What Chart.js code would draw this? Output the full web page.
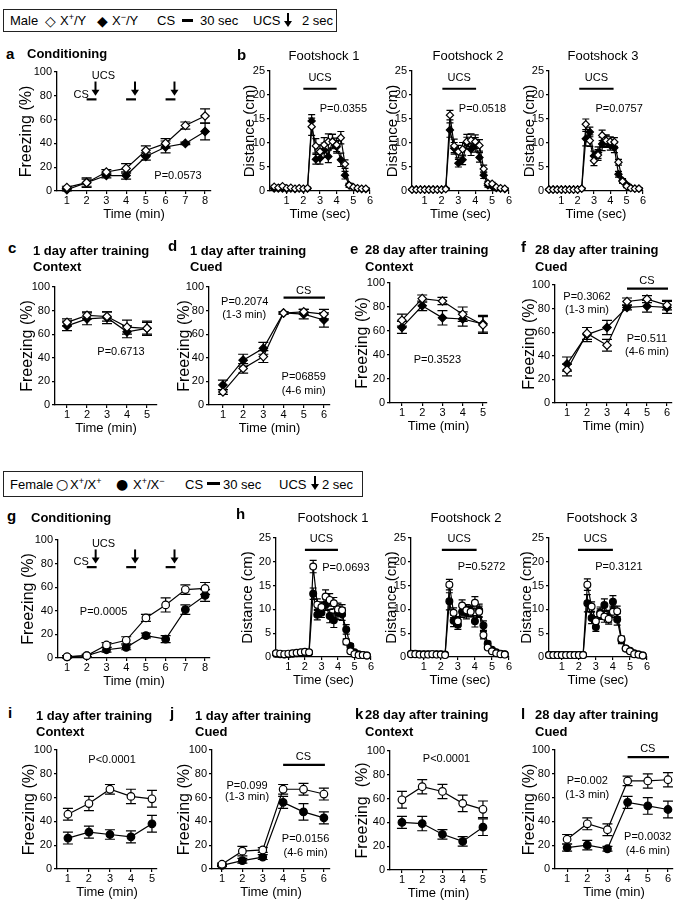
<!DOCTYPE html>
<html>
<head>
<meta charset="utf-8">
<script src="https://cdn.jsdelivr.net/npm/chart.js@4.4.1/dist/chart.umd.min.js"></script>
<style>
body { margin: 0; background: #fff; font-family: 'Liberation Sans', Arial, sans-serif; color: #000; }
#page { position: relative; width: 675px; height: 903px; overflow: hidden; }
.t { position: absolute; white-space: nowrap; line-height: 1; }
.lt { font-weight: bold; font-size: 15px; }
.hd { font-weight: bold; font-size: 13px; }
.fs { font-size: 13px; transform: translateX(-50%); }
.lg { font-size: 13px; }
.sym { font-family: 'DejaVu Sans', sans-serif; font-size: 14px; }
sup { font-size: 9px; line-height: 0; vertical-align: 5px; }
.box { position: absolute; border: 1px solid #222; box-sizing: border-box; }
.dash { position: absolute; height: 3px; background: #000; }
canvas { position: absolute; }
</style>
</head>
<body>
<div id="page">
  <div class="box" style="left:3px;top:9px;width:334px;height:23px"></div>
  <div class="box" style="left:3px;top:471px;width:360px;height:26px"></div>
</div>
<script>
'use strict'

// time axes
const mins8 = [1, 2, 3, 4, 5, 6, 7, 8];
const mins5 = [1, 2, 3, 4, 5];
const mins6 = [1, 2, 3, 4, 5, 6];
const secs = [0.25, 0.5, 0.75, 1, 1.25, 1.5, 1.75, 2, 2.25, 2.5, 2.75, 3, 3.25, 3.5, 3.75, 4, 4.25, 4.5, 4.75, 5, 5.25, 5.5, 5.75];

// male, conditioning (a)
const aOpen = [3, 7, 16, 19, 34, 40, 55, 63];
const aOpenErr = [1, 3, 2, 4, 4, 4, 3, 6];
const aFill = [1, 7, 13, 13, 29, 37, 40, 50];
const aFillErr = [1, 4, 2, 3, 3, 5, 1, 7];

// male, footshocks (b)
const b1Open = [0.9, 0.7, 1.0, 0.6, 0.7, 0.5, 0.6, 0.5, 0.6, 13.4, 9.4, 8.2, 9.6, 10.3, 10.3, 9.6, 11.1, 5.6, 1.2, 0.8, 0.6, 0.5, 0.5];
const b1OpenErr = [0.3, 0.2, 0.3, 0.2, 0.2, 0.2, 0.2, 0.2, 0.2, 1.8, 1.5, 1.4, 1.5, 1.6, 1.5, 1.4, 1.3, 0.9, 0.4, 0.3, 0.2, 0.2, 0.2];
const b1Fill = [0.5, 0.5, 0.5, 0.4, 0.5, 0.4, 0.5, 0.4, 0.5, 14.6, 6.6, 6.8, 8.5, 7.2, 10.4, 9.2, 6.5, 3.3, 1.2, 0.8, 0.5, 0.4, 0.4];
const b1FillErr = [0.2, 0.2, 0.2, 0.2, 0.2, 0.2, 0.2, 0.2, 0.2, 1.3, 1.0, 1.2, 1.5, 1.3, 1.4, 1.3, 1.4, 0.8, 0.4, 0.3, 0.2, 0.2, 0.2];
const b2Open = [0.3, 0.3, 0.3, 0.3, 0.3, 0.3, 0.3, 0.3, 0.4, 15.8, 9.4, 8.2, 8.7, 10.3, 10.6, 10.3, 9.5, 4.6, 1.6, 1.5, 0.8, 0.6, 0.5];
const b2OpenErr = [0.1, 0.1, 0.1, 0.1, 0.1, 0.1, 0.1, 0.1, 0.2, 1.0, 1.4, 1.3, 1.4, 1.5, 1.3, 1.4, 1.2, 0.8, 0.4, 0.3, 0.2, 0.2, 0.2];
const b2Fill = [0.3, 0.3, 0.3, 0.3, 0.3, 0.3, 0.3, 0.3, 0.5, 12.7, 8.9, 5.8, 6.5, 10.0, 8.7, 9.6, 7.0, 3.3, 1.2, 1.0, 0.6, 0.5, 0.4];
const b2FillErr = [0.1, 0.1, 0.1, 0.1, 0.1, 0.1, 0.1, 0.1, 0.2, 1.5, 1.2, 0.8, 1.0, 1.2, 1.3, 1.5, 1.0, 0.7, 0.4, 0.3, 0.2, 0.2, 0.2];
const b3Open = [0.3, 0.3, 0.3, 0.3, 0.3, 0.3, 0.3, 0.3, 0.5, 13.9, 10.5, 6.3, 7.5, 11.6, 10.5, 10.3, 10.2, 6.0, 2.0, 1.0, 0.6, 0.5, 0.5];
const b3OpenErr = [0.1, 0.1, 0.1, 0.1, 0.1, 0.1, 0.1, 0.1, 0.2, 1.1, 1.2, 1.0, 1.1, 1.1, 1.2, 1.0, 0.9, 0.6, 0.4, 0.3, 0.2, 0.2, 0.2];
const b3Fill = [0.3, 0.3, 0.3, 0.3, 0.3, 0.3, 0.3, 0.3, 0.5, 10.9, 12.3, 7.3, 8.0, 9.8, 10.3, 9.5, 9.0, 3.5, 2.2, 1.3, 0.7, 0.5, 0.5];
const b3FillErr = [0.1, 0.1, 0.1, 0.1, 0.1, 0.1, 0.1, 0.1, 0.2, 1.5, 1.0, 1.0, 1.2, 1.4, 1.2, 1.0, 1.0, 0.6, 0.4, 0.3, 0.2, 0.2, 0.2];

// male, tests (c-f)
const cOpen = [70, 76, 75, 66, 65];
const cOpenErr = [3, 3, 4, 6, 5];
const cFill = [67, 73, 74, 62, 65];
const cFillErr = [4, 5, 5, 5, 6];
const dOpen = [11, 31, 41, 78, 79, 77];
const dOpenErr = [2, 4, 5, 1, 2, 4];
const dFill = [17, 38, 48, 78, 77, 72];
const dFillErr = [4, 5, 5, 1, 4, 6];
const eOpen = [69, 87, 85, 74, 65];
const eOpenErr = [5, 3, 3, 6, 7];
const eFill = [63, 81, 71, 70, 66];
const eFillErr = [5, 4, 6, 6, 7];
const fOpen = [28, 59, 49, 86, 88, 83];
const fOpenErr = [5, 5, 5, 3, 3, 4];
const fFill = [33, 58, 64, 81, 82, 81];
const fFillErr = [6, 6, 6, 2, 5, 5];

// female, conditioning (g)
const gOpen = [1, 2, 11, 15, 34, 45, 58, 59];
const gOpenErr = [1, 1, 2, 3, 3, 6, 4, 5];
const gFill = [1, 2, 7, 9, 19, 16, 41, 53];
const gFillErr = [1, 1, 2, 2, 2, 3, 4, 5];

// female, footshocks (h)
const h1Open = [0.8, 0.7, 0.6, 0.7, 0.8, 0.9, 1.0, 1.1, 1.0, 19.0, 11.0, 10.5, 12.7, 12.0, 11.3, 10.0, 9.8, 3.2, 1.2, 0.6, 0.4, 0.4, 0.3];
const h1OpenErr = [0.3, 0.2, 0.2, 0.2, 0.2, 0.2, 0.2, 0.2, 0.2, 1.3, 1.2, 1.1, 1.4, 1.3, 1.2, 1.3, 1.2, 0.6, 0.3, 0.2, 0.2, 0.2, 0.2];
const h1Fill = [0.7, 0.6, 0.5, 0.6, 0.7, 0.8, 0.9, 1.0, 0.9, 13.3, 8.9, 9.3, 11.0, 8.6, 7.7, 9.3, 9.0, 5.8, 2.3, 1.0, 0.6, 0.4, 0.3];
const h1FillErr = [0.3, 0.2, 0.2, 0.2, 0.2, 0.2, 0.2, 0.2, 0.2, 1.2, 1.1, 1.0, 1.2, 1.4, 1.5, 1.4, 1.3, 1.0, 0.5, 0.3, 0.2, 0.2, 0.2];
const h2Open = [0.6, 0.6, 0.5, 0.5, 0.5, 0.6, 0.5, 0.5, 0.4, 15.2, 9.3, 7.5, 10.8, 9.8, 9.5, 11.4, 9.5, 4.6, 2.0, 1.2, 0.8, 0.6, 0.5];
const h2OpenErr = [0.2, 0.2, 0.2, 0.2, 0.2, 0.2, 0.2, 0.2, 0.2, 1.1, 1.0, 1.0, 1.2, 1.2, 1.1, 1.3, 1.2, 0.8, 0.4, 0.3, 0.2, 0.2, 0.2];
const h2Fill = [0.7, 0.7, 0.6, 0.6, 0.6, 0.6, 0.6, 0.6, 0.5, 11.7, 7.6, 6.8, 9.5, 9.3, 9.7, 7.5, 9.8, 6.6, 2.8, 1.5, 1.0, 0.7, 0.6];
const h2FillErr = [0.2, 0.2, 0.2, 0.2, 0.2, 0.2, 0.2, 0.2, 0.2, 1.8, 1.2, 1.0, 1.2, 1.3, 1.2, 1.2, 1.3, 1.0, 0.5, 0.3, 0.2, 0.2, 0.2];
const h3Open = [0.4, 0.4, 0.4, 0.4, 0.4, 0.4, 0.4, 0.4, 0.4, 15.2, 10.6, 7.5, 9.0, 8.5, 8.0, 9.5, 9.6, 3.8, 1.8, 1.2, 0.6, 0.5, 0.3];
const h3OpenErr = [0.1, 0.1, 0.1, 0.1, 0.1, 0.1, 0.1, 0.1, 0.1, 1.2, 1.0, 1.0, 1.1, 1.2, 1.1, 1.2, 1.1, 0.6, 0.4, 0.3, 0.2, 0.2, 0.2];
const h3Fill = [0.4, 0.4, 0.4, 0.4, 0.4, 0.4, 0.4, 0.4, 0.4, 11.3, 8.2, 6.3, 9.3, 10.9, 8.5, 11.6, 7.9, 3.5, 1.8, 1.3, 0.8, 0.5, 0.3];
const h3FillErr = [0.1, 0.1, 0.1, 0.1, 0.1, 0.1, 0.1, 0.1, 0.1, 1.8, 1.2, 0.9, 1.2, 1.3, 1.3, 1.3, 1.2, 0.7, 0.4, 0.3, 0.2, 0.2, 0.2];

// female, tests (i-l)
const iOpen = [46, 55, 67, 61, 59];
const iOpenErr = [5, 6, 4, 6, 7];
const iFill = [26, 31, 29, 27, 38];
const iFillErr = [5, 5, 4, 5, 7];
const jOpen = [4, 15, 16, 67, 67, 63];
const jOpenErr = [1, 4, 2, 4, 5, 5];
const jFill = [3, 7, 10, 56, 48, 43];
const jFillErr = [1, 2, 2, 5, 7, 5];
const kOpen = [59, 70, 66, 56, 51];
const kOpenErr = [7, 6, 6, 7, 7];
const kFill = [40, 39, 30, 24, 36];
const kFillErr = [5, 6, 4, 4, 7];
const lOpen = [25, 38, 33, 74, 74, 75];
const lOpenErr = [4, 5, 5, 4, 6, 6];
const lFill = [18, 20, 17, 56, 53, 50];
const lFillErr = [3, 4, 2, 5, 7, 7];

const FONT = "'Liberation Sans', Arial, sans-serif";
Chart.defaults.font.family = FONT;
Chart.defaults.color = '#000';

const page = document.getElementById('page');

// error bars under the points
const errorBars = {
    id: 'errorBars',
    beforeDatasetsDraw(chart, args, opts) {
        const ctx = chart.ctx, ys = chart.scales.y;
        ctx.save();
        ctx.strokeStyle = '#000';
        ctx.lineWidth = 1.2;
        chart.data.datasets.forEach((ds, i) => {
            if (!ds.err) return;
            chart.getDatasetMeta(i).data.forEach((pt, j) => {
                const v = ds.data[j].y, e = ds.err[j];
                const top = ys.getPixelForValue(v + e), bot = ys.getPixelForValue(Math.max(v - e, 0));
                ctx.beginPath();
                ctx.moveTo(pt.x, top); ctx.lineTo(pt.x, bot);
                ctx.moveTo(pt.x - opts.cap, top); ctx.lineTo(pt.x + opts.cap, top);
                ctx.moveTo(pt.x - opts.cap, bot); ctx.lineTo(pt.x + opts.cap, bot);
                ctx.stroke();
            });
        });
        ctx.restore();
    }
};

// CS / UCS bars, arrows and p-values
const marks = {
    id: 'marks',
    afterDatasetsDraw(chart, args, opts) {
        const ctx = chart.ctx, xs = chart.scales.x, ys = chart.scales.y;
        const px = v => xs.getPixelForValue(v), py = v => ys.getPixelForValue(v);
        ctx.save();
        ctx.fillStyle = '#000';
        ctx.strokeStyle = '#000';
        (opts.bars || []).forEach(b => {
            ctx.lineWidth = 2.2;
            ctx.beginPath();
            ctx.moveTo(px(b[0]), py(b[2]));
            ctx.lineTo(px(b[1]), py(b[2]));
            ctx.stroke();
        });
        (opts.arrows || []).forEach(a => {
            const x = px(a[0]), y1 = py(a[1]), y2 = py(a[2]);
            ctx.lineWidth = 2;
            ctx.beginPath();
            ctx.moveTo(x, y1); ctx.lineTo(x, y2 - 4);
            ctx.stroke();
            ctx.beginPath();
            ctx.moveTo(x - 4, y2 - 6); ctx.lineTo(x + 4, y2 - 6); ctx.lineTo(x, y2);
            ctx.closePath();
            ctx.fill();
        });
        ctx.font = '11px ' + FONT;
        ctx.textAlign = 'center';
        ctx.textBaseline = 'middle';
        (opts.texts || []).forEach(t => ctx.fillText(t[0], px(t[1]), py(t[2])));
        ctx.restore();
    }
};

function series(xs, s) {
    return {
        data: xs.map((x, i) => ({ x: x, y: s.data[i] })),
        err: s.err,
        pointStyle: s.shape,
        pointRadius: s.r,
        pointBackgroundColor: s.filled ? '#000' : '#fff',
        pointBorderColor: '#000',
        pointBorderWidth: 1.2,
        borderColor: '#000',
        borderWidth: 1.2,
        tension: 0,
        clip: false
    };
}

function makePanel(p) {
    const padT = 18, padR = 18, xh = 31;
    const w = p.right - p.left, h = p.bottom - p.top;
    const cv = document.createElement('canvas');
    cv.width = w + p.yw + padR;
    cv.height = h + padT + xh;
    cv.style.left = (p.left - p.yw) + 'px';
    cv.style.top = (p.top - padT) + 'px';
    page.appendChild(cv);

    const grid = { drawOnChartArea: false, drawTicks: true, tickLength: 3, color: '#000', lineWidth: 1.2 };
    const border = { color: '#000', width: 1.3 };
    new Chart(cv, {
        type: 'line',
        data: { datasets: p.series.map(s => series(p.xs, s)) },
        plugins: [errorBars, marks],
        options: {
            responsive: false,
            animation: false,
            devicePixelRatio: 1,
            layout: { padding: { top: padT, right: padR, left: 0, bottom: 0 } },
            plugins: {
                legend: { display: false },
                tooltip: { enabled: false },
                errorBars: { cap: p.cap },
                marks: p.marks
            },
            scales: {
                x: {
                    type: 'linear', min: p.xMin, max: p.xMax,
                    afterBuildTicks: s => { s.ticks = p.xTicks.map(v => ({ value: v })); },
                    afterFit: s => { s.height = xh; },
                    grid: grid, border: border,
                    ticks: { font: { size: 11 }, color: '#000', padding: 0, maxRotation: 0, autoSkip: false },
                    title: { display: true, text: p.xTitle, font: { size: 13 }, color: '#000', padding: 0 }
                },
                y: {
                    min: 0, max: p.yMax,
                    afterBuildTicks: s => {
                        const t = [];
                        for (let v = 0; v <= p.yMax; v += p.yStep) t.push({ value: v });
                        s.ticks = t;
                    },
                    afterFit: s => { s.width = p.yw; },
                    grid: grid, border: border,
                    ticks: { font: { size: 11 }, color: '#000', padding: 2 },
                    title: { display: true, text: p.yTitle, font: { size: p.ytSize }, color: '#000', padding: 0 }
                }
            }
        }
    });
}

// shapes for the two genotypes
const maleSeries = (o, oe, f, fe, r) => [
    { data: o, err: oe, shape: 'rectRot', filled: false, r: r },
    { data: f, err: fe, shape: 'rectRot', filled: true, r: r }
];
const femaleSeries = (o, oe, f, fe, r) => [
    { data: o, err: oe, shape: 'circle', filled: false, r: r },
    { data: f, err: fe, shape: 'circle', filled: true, r: r }
];

const condMarks = (pText, px, py) => ({
    bars: [[2, 2.5, 77], [4, 4.5, 77], [6, 6.5, 77]],
    arrows: [[2.45, 92, 80], [4.45, 92, 80], [6.45, 92, 80]],
    texts: [['UCS', 2.85, 97], ['CS', 1.72, 81], [pText, px, py]]
});
const shockMarks = (pText, px, py, b0, b1, by) => ({
    bars: [[b0, b1, by]],
    texts: [['UCS', (b0 + b1) / 2, by + 2.2], [pText, px, py]]
});

const FR = 'Freezing (%)', DI = 'Distance (cm)', TM = 'Time (min)', TS = 'Time (sec)';

const panels = [
    // male row 1
    { left: 57, right: 211, top: 72, bottom: 191, xMin: 0.5, xMax: 8.3, xs: mins8, xTicks: mins8, yMax: 100, yStep: 20, yw: 40, yTitle: FR, ytSize: 16, xTitle: TM, cap: 5,
      series: maleSeries(aOpen, aOpenErr, aFill, aFillErr, 4.2), marks: condMarks('P=0.0573', 6.63, 13) },
    { left: 270, right: 370, top: 71, bottom: 191, xMin: 0, xMax: 6, xs: secs, xTicks: mins6, yMax: 25, yStep: 5, yw: 29, yTitle: DI, ytSize: 15, xTitle: TS, cap: 3.5,
      series: maleSeries(b1Open, b1OpenErr, b1Fill, b1FillErr, 3.6), marks: shockMarks('P=0.0355', 4.4, 17, 2, 4, 21.3) },
    { left: 412, right: 509, top: 71, bottom: 191, xMin: 0.25, xMax: 6, xs: secs, xTicks: mins6, yMax: 25, yStep: 5, yw: 28, yTitle: DI, ytSize: 15, xTitle: TS, cap: 3.5,
      series: maleSeries(b2Open, b2OpenErr, b2Fill, b2FillErr, 3.6), marks: shockMarks('P=0.0518', 4.43, 17, 2.05, 4.05, 21.3) },
    { left: 549, right: 643, top: 71, bottom: 191, xMin: 0.25, xMax: 6, xs: secs, xTicks: mins6, yMax: 25, yStep: 5, yw: 28, yTitle: DI, ytSize: 15, xTitle: TS, cap: 3.5,
      series: maleSeries(b3Open, b3OpenErr, b3Fill, b3FillErr, 3.6), marks: shockMarks('P=0.0757', 4.54, 17, 2.1, 4.2, 21.3) },
    // male row 2
    { left: 55, right: 157, top: 287, bottom: 405, xMin: 0.4, xMax: 5.5, xs: mins5, xTicks: mins5, yMax: 100, yStep: 20, yw: 37, yTitle: FR, ytSize: 16, xTitle: TM, cap: 5,
      series: maleSeries(cOpen, cOpenErr, cFill, cFillErr, 4.2), marks: { texts: [['P=0.6713', 3.7, 45]] } },
    { left: 209, right: 330, top: 287, bottom: 405, xMin: 0.31, xMax: 6.3, xs: mins6, xTicks: mins6, yMax: 100, yStep: 20, yw: 34, yTitle: FR, ytSize: 16, xTitle: TM, cap: 5,
      series: maleSeries(dOpen, dOpenErr, dFill, dFillErr, 4.2),
      marks: { bars: [[4, 6.05, 91]], texts: [['CS', 5, 97], ['P=0.2074', 2.08, 87], ['(1-3 min)', 2.05, 76], ['P=06859', 5.0, 24], ['(4-6 min)', 5.0, 12]] } },
    { left: 390, right: 487, top: 283, bottom: 403, xMin: 0.41, xMax: 5.2, xs: mins5, xTicks: mins5, yMax: 100, yStep: 20, yw: 37, yTitle: FR, ytSize: 16, xTitle: TM, cap: 5,
      series: maleSeries(eOpen, eOpenErr, eFill, eFillErr, 4.2), marks: { texts: [['P=0.3523', 2.75, 36]] } },
    { left: 555, right: 672, top: 285, bottom: 403, xMin: 0.4, xMax: 6.25, xs: mins6, xTicks: mins6, yMax: 100, yStep: 20, yw: 35, yTitle: FR, ytSize: 16, xTitle: TM, cap: 5,
      series: maleSeries(fOpen, fOpenErr, fFill, fFillErr, 4.2),
      marks: { bars: [[4, 6.05, 97]], texts: [['CS', 5, 103], ['P=0.3062', 2.0, 90], ['(1-3 min)', 2.0, 79], ['P=0.511', 5.0, 54], ['(4-6 min)', 5.0, 43]] } },
    // female row 3
    { left: 58, right: 210, top: 540, bottom: 658, xMin: 0.54, xMax: 8.25, xs: mins8, xTicks: mins8, yMax: 100, yStep: 20, yw: 39, yTitle: FR, ytSize: 16, xTitle: TM, cap: 5,
      series: femaleSeries(gOpen, gOpenErr, gFill, gFillErr, 3.8), marks: condMarks('P=0.0005', 2.85, 39) },
    { left: 276, right: 371, top: 538, bottom: 657, xMin: 0.25, xMax: 6, xs: secs, xTicks: mins6, yMax: 25, yStep: 5, yw: 37, yTitle: DI, ytSize: 15, xTitle: TS, cap: 3.5,
      series: femaleSeries(h1Open, h1OpenErr, h1Fill, h1FillErr, 3.4), marks: shockMarks('P=0.0693', 4.48, 18.7, 2, 4, 22.5) },
    { left: 411, right: 509, top: 538, bottom: 657, xMin: 0.25, xMax: 6, xs: secs, xTicks: mins6, yMax: 25, yStep: 5, yw: 28, yTitle: DI, ytSize: 15, xTitle: TS, cap: 3.5,
      series: femaleSeries(h2Open, h2OpenErr, h2Fill, h2FillErr, 3.4), marks: shockMarks('P=0.5272', 4.39, 18.9, 2.06, 4.1, 22.5) },
    { left: 549, right: 647, top: 538, bottom: 657, xMin: 0.25, xMax: 6, xs: secs, xTicks: mins6, yMax: 25, yStep: 5, yw: 31, yTitle: DI, ytSize: 15, xTitle: TS, cap: 3.5,
      series: femaleSeries(h3Open, h3OpenErr, h3Fill, h3FillErr, 3.4), marks: shockMarks('P=0.3121', 4.35, 18.9, 1.95, 4.0, 22.5) },
    // female row 4
    { left: 57, right: 157, top: 750, bottom: 869, xMin: 0.48, xMax: 5.24, xs: mins5, xTicks: mins5, yMax: 100, yStep: 20, yw: 37, yTitle: FR, ytSize: 16, xTitle: TM, cap: 5,
      series: femaleSeries(iOpen, iOpenErr, iFill, iFillErr, 3.8), marks: { texts: [['P<0.0001', 3.1, 92]] } },
    { left: 212, right: 330, top: 750, bottom: 869, xMin: 0.51, xMax: 6.3, xs: mins6, xTicks: mins6, yMax: 100, yStep: 20, yw: 37, yTitle: FR, ytSize: 16, xTitle: TM, cap: 5,
      series: femaleSeries(jOpen, jOpenErr, jFill, jFillErr, 3.8),
      marks: { bars: [[4, 6.05, 87.5]], texts: [['CS', 5, 94.5], ['P=0.099', 2.23, 70], ['(1-3 min)', 2.23, 60.5], ['P=0.0156', 5.1, 25], ['(4-6 min)', 5.1, 13.5]] } },
    { left: 390, right: 487, top: 751, bottom: 870, xMin: 0.41, xMax: 5.2, xs: mins5, xTicks: mins5, yMax: 100, yStep: 20, yw: 37, yTitle: 'Freezing  (%)', ytSize: 16, xTitle: TM, cap: 5,
      series: femaleSeries(kOpen, kOpenErr, kFill, kFillErr, 3.8), marks: { texts: [['P<0.0001', 3.2, 93]] } },
    { left: 555, right: 673, top: 750, bottom: 869, xMin: 0.4, xMax: 6.25, xs: mins6, xTicks: mins6, yMax: 100, yStep: 20, yw: 35, yTitle: FR, ytSize: 16, xTitle: TM, cap: 5,
      series: femaleSeries(lOpen, lOpenErr, lFill, lFillErr, 3.8),
      marks: { bars: [[4, 6.05, 94]], texts: [['CS', 5, 100.5], ['P=0.002', 2.0, 74], ['(1-3 min)', 2.0, 62], ['P=0.0032', 5.0, 27], ['(4-6 min)', 5.0, 15]] } }
];

panels.forEach(makePanel);

// headings: [html, x, y centre, class]
const heads = [
    ['a', 6, 53, 'lt'], ['Conditioning', 27, 53, 'hd'],
    ['b', 237, 54, 'lt'], ['Footshock 1', 324, 55, 'fs'], ['Footshock 2', 468, 55, 'fs'], ['Footshock 3', 603, 55, 'fs'],
    ['c', 8, 247, 'lt'], ['1 day after training', 33, 250, 'hd'], ['Context', 33, 266, 'hd'],
    ['d', 168, 245, 'lt'], ['1 day after training', 190, 250, 'hd'], ['Cued', 190, 266, 'hd'],
    ['e', 350, 248, 'lt'], ['28 day after training', 365, 249, 'hd'], ['Context', 365, 266, 'hd'],
    ['f', 521, 246, 'lt'], ['28 day after training', 535, 249, 'hd'], ['Cued', 535, 266, 'hd'],
    ['g', 7, 515, 'lt'], ['Conditioning', 31, 517, 'hd'],
    ['h', 236, 513, 'lt'], ['Footshock 1', 333, 517, 'fs'], ['Footshock 2', 466, 517, 'fs'], ['Footshock 3', 602, 517, 'fs'],
    ['i', 8, 712, 'lt'], ['1 day after training', 36, 715, 'hd'], ['Context', 36, 731, 'hd'],
    ['j', 170, 712, 'lt'], ['1 day after training', 195, 715, 'hd'], ['Cued', 195, 731, 'hd'],
    ['k', 355, 713, 'lt'], ['28 day after training', 365, 714, 'hd'], ['Context', 365, 731, 'hd'],
    ['l', 521, 713, 'lt'], ['28 day after training', 535, 714, 'hd'], ['Cued', 535, 731, 'hd'],
    // legends
    ['Male', 10, 20.5, 'lg'], ['\u25C7', 45, 20.5, 'sym'], ['X<sup>+</sup>/Y', 60, 20.5, 'lg'],
    ['\u25C6', 97, 20.5, 'sym'], ['X<sup>\u2212</sup>/Y', 112, 20.5, 'lg'],
    ['CS', 157, 20.5, 'lg'], ['30 sec', 200, 20.5, 'lg'], ['UCS', 253, 20.5, 'lg'], ['2 sec', 302, 20.5, 'lg'],
    ['Female', 10, 484, 'lg'], ['\u25CB', 56, 484, 'sym'], ['X<sup>+</sup>/X<sup>+</sup>', 70, 484, 'lg'],
    ['\u25CF', 116, 484, 'sym'], ['X<sup>+</sup>/X<sup>\u2212</sup>', 133, 484, 'lg'],
    ['CS', 185, 484, 'lg'], ['30 sec', 223, 484, 'lg'], ['UCS', 279, 484, 'lg'], ['2 sec', 322, 484, 'lg']
];
const sizes = { lt: 15, hd: 13, fs: 13, lg: 13, sym: 14 };
heads.forEach(h => {
    const d = document.createElement('div');
    d.className = 't ' + h[3];
    d.innerHTML = h[0];
    d.style.left = h[1] + 'px';
    d.style.top = (h[2] - sizes[h[3]] / 2) + 'px';
    page.appendChild(d);
});

// legend dashes and arrows
[[182, 20, 11], [207, 483, 13]].forEach(s => {
    const d = document.createElement('div');
    d.className = 'dash';
    d.style.left = s[0] + 'px'; d.style.top = (s[1] - 1) + 'px'; d.style.width = s[2] + 'px';
    page.appendChild(d);
});
[[288, 13], [315, 476]].forEach(a => {
    const line = document.createElement('div');
    line.style.cssText = 'position:absolute;background:#000;width:2px;height:10px;left:' + (a[0] - 1) + 'px;top:' + a[1] + 'px';
    const head = document.createElement('div');
    head.style.cssText = 'position:absolute;width:0;height:0;border-left:4px solid transparent;border-right:4px solid transparent;border-top:6px solid #000;left:' + (a[0] - 4) + 'px;top:' + (a[1] + 8) + 'px';
    page.appendChild(line);
    page.appendChild(head);
});
</script>
</body>
</html>
